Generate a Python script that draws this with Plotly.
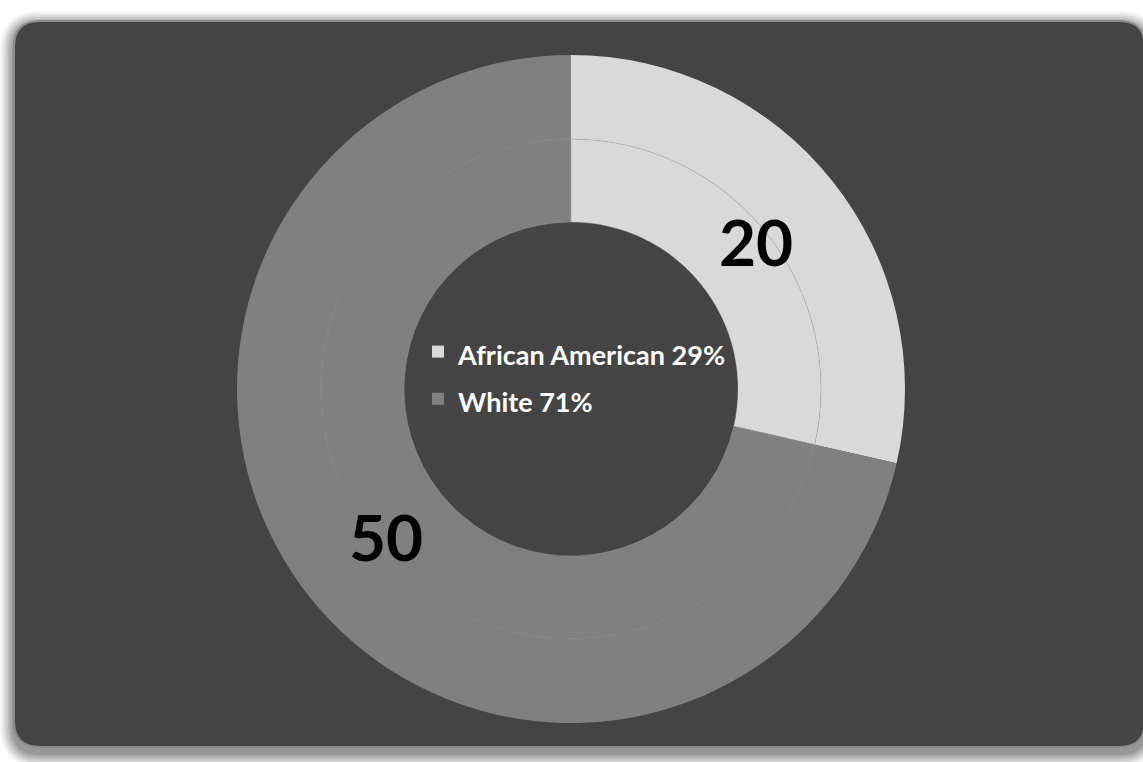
import math
import plotly.graph_objects as go

W, H = 1143, 762

groups = ["African American", "White"]
counts = [20, 50]
colors = ["#D9D9D9", "#808080"]

total = sum(counts)
legend_labels = [f"{g} {round(100 * c / total)}%" for g, c in zip(groups, counts)]

# pie geometry in pixels
cx, cy = 571, 389
r_outer, r_mid, r_hole = 334, 250, 167


def domain(r):
    return dict(
        x=[(cx - r) / W, (cx + r) / W],
        y=[(H - cy - r) / H, (H - cy + r) / H],
    )


fig = go.Figure()

# outer ring (carries the legend)
fig.add_trace(
    go.Pie(
        labels=[f'<span style="font-size:27px">{t}</span>' for t in legend_labels],
        values=counts,
        domain=domain(r_outer),
        hole=r_mid / r_outer,
        sort=False,
        direction="clockwise",
        rotation=0,
        textinfo="none",
        hoverinfo="label+value",
        marker=dict(colors=colors, line=dict(width=0)),
        showlegend=True,
    )
)

# inner ring
fig.add_trace(
    go.Pie(
        labels=[f'<span style="font-size:27px">{t}</span>' for t in legend_labels],
        values=counts,
        domain=domain(r_mid),
        hole=r_hole / r_mid,
        sort=False,
        direction="clockwise",
        rotation=0,
        textinfo="none",
        hoverinfo="label+value",
        marker=dict(colors=colors, line=dict(color="rgba(170,170,170,0.6)", width=0.6)),
        showlegend=False,
    )
)

# value labels around the middle angle of each slice
r_lab = 236
start = 0.0
for c in counts:
    ang = math.radians((start + c / 2) / total * 360)
    start += c
    x = cx + r_lab * math.sin(ang)
    y = cy - r_lab * math.cos(ang)
    fig.add_annotation(
        x=x / W, y=(H - y) / H, xref="paper", yref="paper",
        xanchor="center", yanchor="middle",
        text=f"<b>{c}</b>", showarrow=False,
        font=dict(family="Lato", size=64, color="#000000"),
    )


def rounded_rect(x0, y0, x1, y1, r):
    # pixel coords (top-left origin) -> paper path
    def p(x, y):
        return f"{x / W:.5f},{(H - y) / H:.5f}"
    return (
        f"M {p(x0 + r, y0)} L {p(x1 - r, y0)} Q {p(x1, y0)} {p(x1, y0 + r)} "
        f"L {p(x1, y1 - r)} Q {p(x1, y1)} {p(x1 - r, y1)} "
        f"L {p(x0 + r, y1)} Q {p(x0, y1)} {p(x0, y1 - r)} "
        f"L {p(x0, y0 + r)} Q {p(x0, y0)} {p(x0 + r, y0)} Z"
    )


shapes = []
# soft shadow, a bit heavier below
for i, op in enumerate([0.06, 0.09, 0.12, 0.15, 0.18, 0.22, 0.26]):
    g = 14 - 2 * i
    shapes.append(dict(
        type="path", xref="paper", yref="paper", layer="below",
        path=rounded_rect(14 - g, 21 - g + 4, 1145 + g, 747 + g + 6, 26 + g),
        fillcolor=f"rgba(110,110,110,{op})", line=dict(width=0),
    ))
shapes.append(dict(
    type="path", xref="paper", yref="paper", layer="below",
    path=rounded_rect(14, 21, 1145, 747, 26),
    fillcolor="#444444", line=dict(color="#8a8a8a", width=2),
))

fig.update_layout(
    width=W,
    height=H,
    margin=dict(l=0, r=0, t=0, b=0),
    paper_bgcolor="#ffffff",
    plot_bgcolor="#ffffff",
    shapes=shapes,
    legend=dict(
        x=418 / W, y=(H - 323) / H, xanchor="left", yanchor="top",
        bgcolor="rgba(0,0,0,0)",
        font=dict(family="Lato", size=34, color="#ffffff", weight="bold"),
        itemclick=False, itemdoubleclick=False,
        tracegroupgap=0,
    ),
)

fig.write_html(
    "out.html",
    config={"displayModeBar": False},
    post_script="document.body.style.margin='0';",
)
